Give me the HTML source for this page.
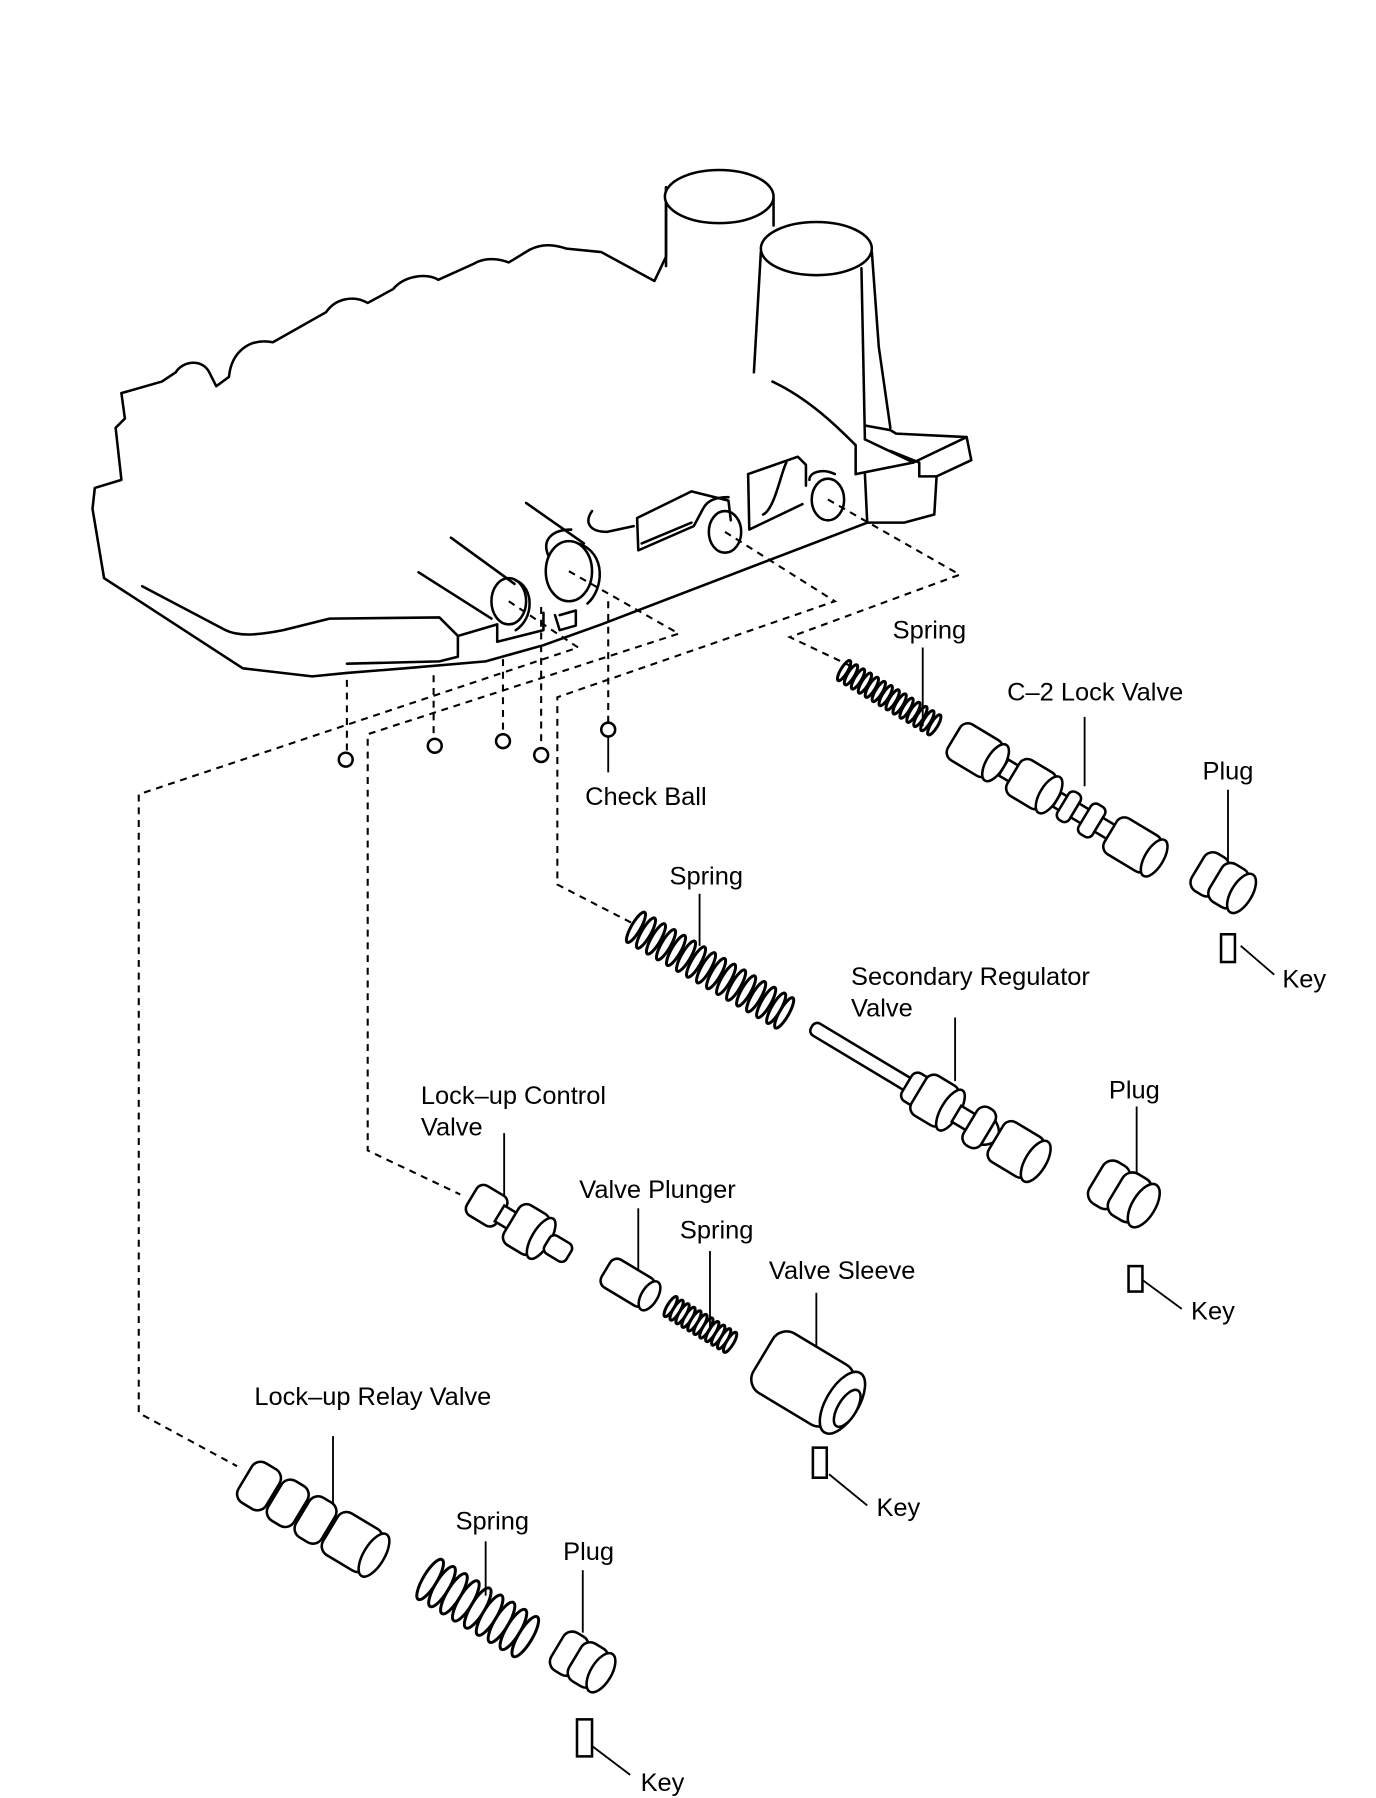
<!DOCTYPE html>
<html><head><meta charset="utf-8"><style>
html,body{margin:0;padding:0;background:#fff}
svg{display:block}
text{font-family:"Liberation Sans",Arial,sans-serif;font-size:22px;fill:#000}
</style></head><body>
<svg width="1376" height="1798" viewBox="0 0 1190 1555" preserveAspectRatio="none" xmlns="http://www.w3.org/2000/svg">
<defs>
<g id="coilS"><ellipse cx="0" cy="0" rx="3" ry="10" fill="none" stroke="#000" stroke-width="2.6"/></g>
<g id="coilM"><ellipse cx="0" cy="0" rx="4" ry="15" fill="none" stroke="#000" stroke-width="2.6"/></g>
<g id="coilL"><ellipse cx="0" cy="0" rx="6" ry="20" fill="none" stroke="#000" stroke-width="2.6"/></g>
</defs>
<g fill="none" stroke="#000" stroke-width="2.2" stroke-linejoin="round" stroke-linecap="round">
<path d="M105,340 L140,330 L152,322 C158,312 175,310 181,322 L187,334 L198,326 C200,305 215,292 236,296 L282,270 C290,258 306,255 318,262 L340,250 C350,238 370,236 379,242 L410,228 C420,222 432,224 440,227 L458,216 C470,210 480,212 490,215 L520,218 L566,243 L576,222 L576,162"/>
<path d="M576,162 L576,230"/>
<ellipse cx="622" cy="170" rx="47" ry="23" fill="#fff"/>
<path d="M669,172 L669,195"/>
<path d="M658,218 L652,322"/>
<path d="M754,218 L760,300 L770,370"/>
<ellipse cx="706" cy="215" rx="48" ry="23" fill="#fff"/>
<path d="M745,232 L748,380"/>
<path d="M668,330 C700,345 725,370 740,385 L740,410"/>
<path d="M748,368 L770,372 L775,375 L836,378 L840,398 L810,412 L808,445 L782,452 L750,452"/>
<path d="M748,380 L790,400 L836,378"/>
<path d="M770,390 L795,400 L795,412 L810,412"/>
<path d="M740,410 L790,400"/>
<path d="M750,452 L748,410"/>
<path d="M750,452 L520,540 L470,558 L420,572 L350,578 L300,582 L270,585 L210,578 L90,500 L80,440 L82,422 L105,415 L100,370 L108,362 L105,340"/>
<path d="M123,507 L195,545 C205,550 220,550 245,545 L285,535 L380,534 L396,550 L396,568 L380,572 L300,574"/>
<path d="M396,550 L430,540"/>
<path d="M430,540 L430,555 L470,545 L470,530 M480,532 L484,545 L498,541 L498,528 L484,532"/>
<ellipse cx="440" cy="520" rx="15" ry="20" fill="#fff"/>
<path d="M446,502 C462,508 462,535 446,545"/>
<ellipse cx="492" cy="494" rx="20" ry="26" fill="#fff"/>
<path d="M500,470 C525,478 522,510 508,522"/>
<path d="M474,480 C468,465 480,458 494,458"/>
<path d="M362,495 L425,535 M390,465 L445,505 M455,435 L505,470"/>
<path d="M512,442 C505,452 510,460 525,460 L548,455"/>
<ellipse cx="627" cy="460" rx="14" ry="18" fill="#fff"/>
<ellipse cx="716" cy="432" rx="14" ry="18" fill="#fff"/>
<path d="M551,448 L552,476 L600,455 L608,440 C612,432 620,430 630,430 M551,448 L598,425 L630,433 L632,450"/>
<path d="M555,470 L598,452"/>
<path d="M647,410 L648,458 L694,436 M647,410 L690,395 L697,402 L697,420 M680,400 C675,410 670,440 660,445"/>
<path d="M700,415 C700,408 712,405 722,410"/>
</g>
<g fill="none" stroke="#000" stroke-width="1.8" stroke-dasharray="6,5">
<path d="M716,432 L830,497 L683,551 L740,578"/>
<path d="M627,460 L722,520 L482,603 L482,765 L546,798"/>
<path d="M526,520 L526,625"/>
<path d="M492,494 L587,548 L318,635 L318,995 L398,1033"/>
<path d="M440,520 L500,560 L120,687 L120,1222 L205,1268"/>
<path d="M468,525 L468,645"/>
<path d="M435,570 L435,633"/>
<path d="M375,584 L375,637"/>
<path d="M300,588 L300,650"/>
</g>
<g fill="#fff" stroke="#000" stroke-width="2.2">
<circle cx="299" cy="657" r="6"/><circle cx="376" cy="645" r="6"/><circle cx="435" cy="641" r="6"/><circle cx="468" cy="653" r="6"/><circle cx="526" cy="631" r="6"/>
</g>
<g stroke="#000" stroke-width="1.6">
<line x1="526" y1="637" x2="526" y2="668"/>
<line x1="798" y1="560" x2="798" y2="628"/>
<line x1="938" y1="620" x2="938" y2="680"/>
<line x1="1062" y1="683" x2="1062" y2="748"/>
<line x1="1073" y1="818" x2="1102" y2="843"/>
<line x1="605" y1="773" x2="605" y2="818"/>
<line x1="826" y1="880" x2="826" y2="935"/>
<line x1="983" y1="957" x2="983" y2="1025"/>
<line x1="988" y1="1107" x2="1022" y2="1132"/>
<line x1="436" y1="980" x2="436" y2="1040"/>
<line x1="552" y1="1045" x2="552" y2="1100"/>
<line x1="614" y1="1082" x2="614" y2="1150"/>
<line x1="706" y1="1118" x2="706" y2="1180"/>
<line x1="717" y1="1275" x2="750" y2="1302"/>
<line x1="288" y1="1242" x2="288" y2="1305"/>
<line x1="420" y1="1333" x2="420" y2="1380"/>
<line x1="504" y1="1358" x2="504" y2="1412"/>
<line x1="512" y1="1510" x2="545" y2="1535"/>
</g>
<g fill="#fff" stroke="#000" stroke-width="2.2">
<g transform="translate(730,580) rotate(31)">
<use href="#coilS" x="0"/><use href="#coilS" x="7"/><use href="#coilS" x="14"/><use href="#coilS" x="21"/><use href="#coilS" x="28"/><use href="#coilS" x="35"/><use href="#coilS" x="42"/><use href="#coilS" x="49"/><use href="#coilS" x="56"/><use href="#coilS" x="63"/><use href="#coilS" x="70"/><use href="#coilS" x="77"/><use href="#coilS" x="84"/><use href="#coilS" x="91"/>
</g>
<g transform="translate(825,638) rotate(31)">
<rect x="0" y="-18" width="42" height="36" rx="8"/><ellipse cx="42" cy="0" rx="8" ry="18"/>
<rect x="50" y="-8" width="12" height="16"/>
<rect x="60" y="-18" width="36" height="36" rx="8"/><ellipse cx="96" cy="0" rx="8" ry="18"/>
<rect x="104" y="-7" width="8" height="14"/>
<rect x="110" y="-14" width="12" height="28" rx="5"/>
<rect x="122" y="-7" width="12" height="14"/>
<rect x="132" y="-15" width="14" height="30" rx="5"/>
<rect x="146" y="-7" width="14" height="14"/>
<rect x="158" y="-18" width="44" height="36" rx="8"/><ellipse cx="202" cy="0" rx="8" ry="18"/>
</g>
<g transform="translate(1036,750) rotate(31)">
<rect x="0" y="-19" width="24" height="38" rx="9"/><rect x="18" y="-19" width="26" height="38" rx="9"/><ellipse cx="44" cy="0" rx="9" ry="19"/>
</g>
<rect x="1056" y="808" width="12" height="24"/>
<g transform="translate(550,802) rotate(30)">
<use href="#coilM" x="0"/><use href="#coilM" x="10"/><use href="#coilM" x="20"/><use href="#coilM" x="30"/><use href="#coilM" x="40"/><use href="#coilM" x="50"/><use href="#coilM" x="60"/><use href="#coilM" x="70"/><use href="#coilM" x="80"/><use href="#coilM" x="90"/><use href="#coilM" x="100"/><use href="#coilM" x="110"/><use href="#coilM" x="120"/><use href="#coilM" x="130"/><use href="#coilM" x="140"/><use href="#coilM" x="148"/>
</g>
<g transform="translate(702,888) rotate(31)">
<rect x="0" y="-6" width="100" height="12" rx="5"/>
<rect x="96" y="-14" width="18" height="28" rx="6"/>
<rect x="108" y="-20" width="32" height="40" rx="8"/><ellipse cx="140" cy="0" rx="8" ry="20"/>
<rect x="146" y="-8" width="16" height="16"/>
<rect x="160" y="-19" width="18" height="38" rx="8"/>
<path d="M178,-12 C190,-6 190,6 178,12 Z"/>
<rect x="186" y="-20" width="40" height="40" rx="8"/><ellipse cx="226" cy="0" rx="9" ry="20"/>
</g>
<g transform="translate(948,1018) rotate(31)">
<rect x="0" y="-21" width="26" height="42" rx="10"/><rect x="20" y="-21" width="28" height="42" rx="10"/><ellipse cx="48" cy="0" rx="10" ry="21"/>
</g>
<rect x="976" y="1095" width="12" height="22"/>
<g transform="translate(408,1035) rotate(31)">
<rect x="0" y="-15" width="30" height="30" rx="7"/><rect x="28" y="-8" width="14" height="16"/>
<rect x="40" y="-20" width="30" height="40" rx="8"/><ellipse cx="70" cy="0" rx="8" ry="20"/>
<rect x="76" y="-9" width="22" height="18" rx="5"/>
</g>
<g transform="translate(524,1098) rotate(31)">
<rect x="0" y="-14" width="44" height="28" rx="7"/><ellipse cx="44" cy="0" rx="7" ry="14"/>
</g>
<g transform="translate(580,1130) rotate(31)">
<use href="#coilS" x="0"/><use href="#coilS" x="6"/><use href="#coilS" x="12"/><use href="#coilS" x="18"/><use href="#coilS" x="24"/><use href="#coilS" x="30"/><use href="#coilS" x="36"/><use href="#coilS" x="42"/><use href="#coilS" x="48"/><use href="#coilS" x="54"/><use href="#coilS" x="60"/>
</g>
<g transform="translate(660,1172) rotate(31)">
<rect x="0" y="-30" width="80" height="60" rx="14"/><ellipse cx="80" cy="0" rx="14" ry="30"/>
<ellipse cx="86" cy="2" rx="8" ry="18"/>
</g>
<rect x="703" y="1252" width="12" height="26"/>
<g transform="translate(212,1278) rotate(31)">
<rect x="0" y="-20" width="28" height="40" rx="9"/>
<rect x="30" y="-20" width="26" height="40" rx="9"/>
<rect x="58" y="-20" width="26" height="40" rx="9"/>
<rect x="86" y="-21" width="44" height="42" rx="9"/><ellipse cx="130" cy="0" rx="9" ry="21"/>
</g>
<g transform="translate(372,1366) rotate(31)" fill="none">
<use href="#coilL" x="0"/><use href="#coilL" x="12"/><use href="#coilL" x="24"/><use href="#coilL" x="36"/><use href="#coilL" x="48"/><use href="#coilL" x="60"/><use href="#coilL" x="72"/><use href="#coilL" x="84"/><use href="#coilL" x="96"/>
</g>
<g transform="translate(482,1424) rotate(31)">
<rect x="0" y="-19" width="24" height="38" rx="9"/><rect x="18" y="-19" width="26" height="38" rx="9"/><ellipse cx="44" cy="0" rx="9" ry="19"/>
</g>
<rect x="499" y="1487" width="13" height="32"/>
</g>
<text x="772" y="552">Spring</text>
<text x="871" y="606">C–2 Lock Valve</text>
<text x="1040" y="674">Plug</text>
<text x="1109" y="854">Key</text>
<text x="506" y="696">Check Ball</text>
<text x="579" y="765">Spring</text>
<text x="736" y="852">Secondary Regulator</text>
<text x="736" y="879">Valve</text>
<text x="959" y="950">Plug</text>
<text x="1030" y="1141">Key</text>
<text x="364" y="955">Lock–up Control</text>
<text x="364" y="982">Valve</text>
<text x="501" y="1036">Valve Plunger</text>
<text x="588" y="1071">Spring</text>
<text x="665" y="1106">Valve Sleeve</text>
<text x="758" y="1311">Key</text>
<text x="220" y="1215">Lock–up Relay Valve</text>
<text x="394" y="1323">Spring</text>
<text x="487" y="1349">Plug</text>
<text x="554" y="1549">Key</text>
</svg>
</body></html>
